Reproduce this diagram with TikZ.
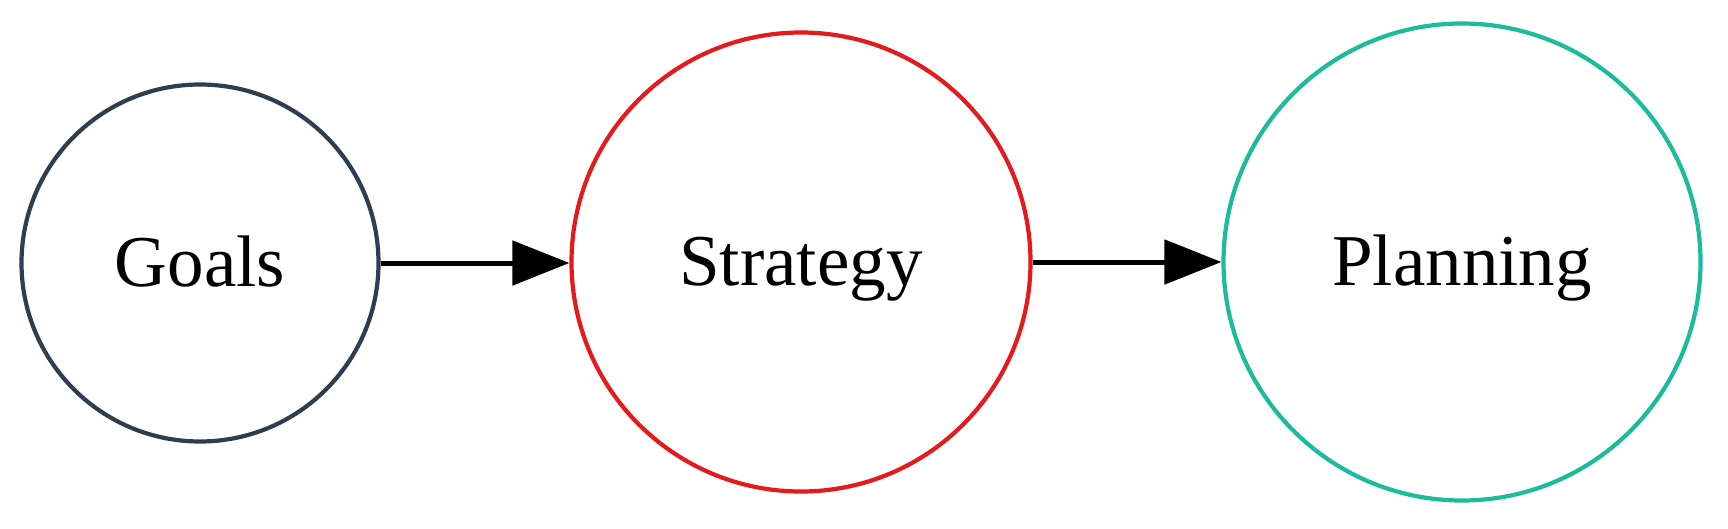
\documentclass[tikz,border=0pt]{standalone}
\usepackage{fontspec}
\setmainfont{Liberation Serif}
\usetikzlibrary{arrows.meta}
\definecolor{goalc}{HTML}{2C3E50}
\definecolor{stratc}{HTML}{E41A1C}
\definecolor{planc}{HTML}{1ABC9C}
\tikzset{
  stage/.style={circle, draw, line width=4.2pt, inner sep=0pt, fill=white,
    font=\fontsize{73}{80}\selectfont, text height=50pt, text depth=4pt},
  link/.style={line width=5pt, -{Triangle[length=57pt,width=44pt]}}
}
\begin{document}
\begin{tikzpicture}[x=1pt,y=-1pt]
\useasboundingbox (0,0) rectangle (1728,528);
\node[stage, draw=goalc, minimum size=357pt] (goals) at (200,263) {Goals};
\node[stage, draw=stratc, minimum size=459pt] (strat) at (801,262) {Strategy};
\node[stage, draw=planc, minimum size=477pt] (plan) at (1462,262) {Planning};
\draw[link] (goals.east) -- (goals.east -| strat.west);
\draw[link] (strat.east) -- (strat.east -| plan.west);
\end{tikzpicture}
\end{document}
